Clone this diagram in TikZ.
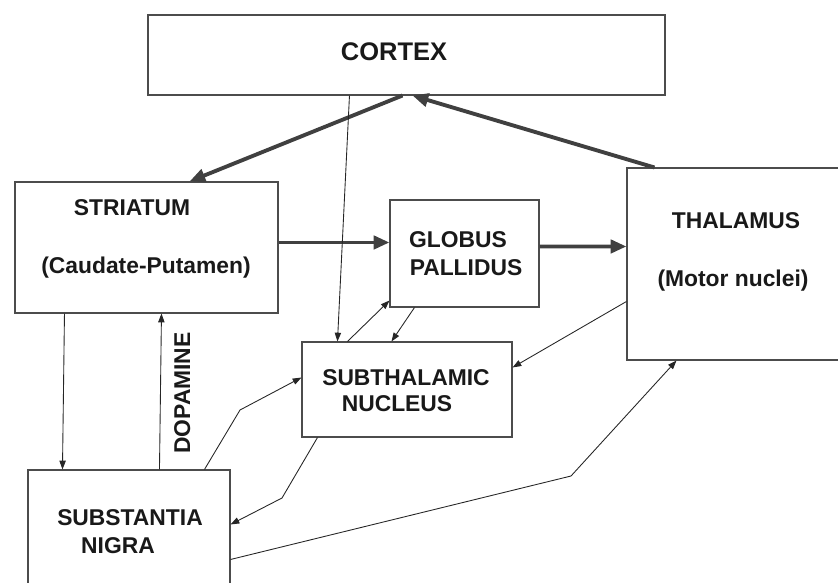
\documentclass[tikz,border=0pt]{standalone}
\usepackage{fontspec}
\setmainfont{Liberation Sans}
\usetikzlibrary{arrows.meta, calc, fit}

\tikzset{
  box/.style={draw=black!70, line width=0.6pt, rectangle, inner sep=0pt},
  lbl/.style={font=\fontsize{13}{15}\selectfont\bfseries, text=black!90, inner sep=0pt, text height=9.3pt, text depth=0pt},
  fine/.style={draw=black!85, line width=0.5pt, -{Triangle[length=5pt, width=3.6pt]}},
  heavy/.style={draw=black!75, line width=2.2pt, -{Triangle[length=9pt, width=7.5pt]}}
}

\begin{document}
\begin{tikzpicture}[x=0.02cm, y=-0.02cm]
  \useasboundingbox (0,0) rectangle (838,582);
  \clip (0,0) rectangle (838,582);
  \node[box, fit={(148,15) (665,95)}] (ctx) {};
  \node[box, fit={(15,182) (278,313)}] (str) {};
  \node[box, fit={(390,200) (539,307)}] (gp) {};
  \node[box, fit={(627,168) (850,360)}] (thal) {};
  \node[box, fit={(302,342) (512,437)}] (stn) {};
  \node[box, fit={(28,470) (230,600)}] (sn) {};
  \node[lbl, font=\fontsize{14.5}{16}\selectfont\bfseries] (ctxT) at (394,52) {CORTEX};
  \node[lbl] (strT) at (132,207) {STRIATUM};
  \node[lbl] (strS) at (146,265) {(Caudate-Putamen)};
  \node[lbl] (gpT) at (458,239) {GLOBUS};
  \node[lbl] (gpS) at (466,267) {PALLIDUS};
  \node[lbl] (thalT) at (736,220) {THALAMUS};
  \node[lbl] (thalS) at (733,278) {(Motor nuclei)};
  \node[lbl] (stnT) at (406,377) {SUBTHALAMIC};
  \node[lbl] (stnS) at (397,403) {NUCLEUS};
  \node[lbl] (snT) at (130,517) {SUBSTANTIA};
  \node[lbl] (snS) at (118,545) {NIGRA};
  \node[lbl, rotate=90] (dopa) at (182,393) {DOPAMINE};
  \coordinate (b1) at (240,410);
  \coordinate (b2) at (282,498);
  \coordinate (b3) at (571,476);
  \draw[heavy] ($(ctx.south west)+(255,0)$) -- ($(str.north west)+(175,0)$);
  \draw[heavy] ($(thal.north west)+(28,0)$) -- ($(ctx.south west)+(265,0)$);
  \draw[heavy] ($(str.north east)+(0,61)$) -- ($(gp.north west)+(0,43)$);
  \draw[heavy] ($(gp.north east)+(0,47)$) -- ($(thal.north west)+(0,79)$);
  \draw[fine] ($(ctx.south west)+(202,0)$) -- ($(stn.north west)+(36,0)$);
  \draw[fine] ($(stn.north west)+(46,0)$) -- ($(gp.south west)+(0,-7)$);
  \draw[fine] ($(gp.south west)+(25,0)$) -- ($(stn.north west)+(90,0)$);
  \draw[fine] ($(thal.north west)+(0,134)$) -- ($(stn.north east)+(0,26)$);
  \draw[fine] ($(str.south west)+(50,0)$) -- ($(sn.north west)+(35,0)$);
  \draw[fine] ($(sn.north west)+(132,0)$) -- ($(str.south west)+(147,0)$);
  \draw[fine] ($(sn.north west)+(177,0)$) -- (b1) -- ($(stn.north west)+(0,36)$);
  \draw[fine] ($(stn.south west)+(16,0)$) -- (b2) -- ($(sn.north east)+(0,55)$);
  \draw[fine] ($(sn.north east)+(0,90)$) -- (b3) -- ($(thal.south west)+(50,0)$);
\end{tikzpicture}
\end{document}
